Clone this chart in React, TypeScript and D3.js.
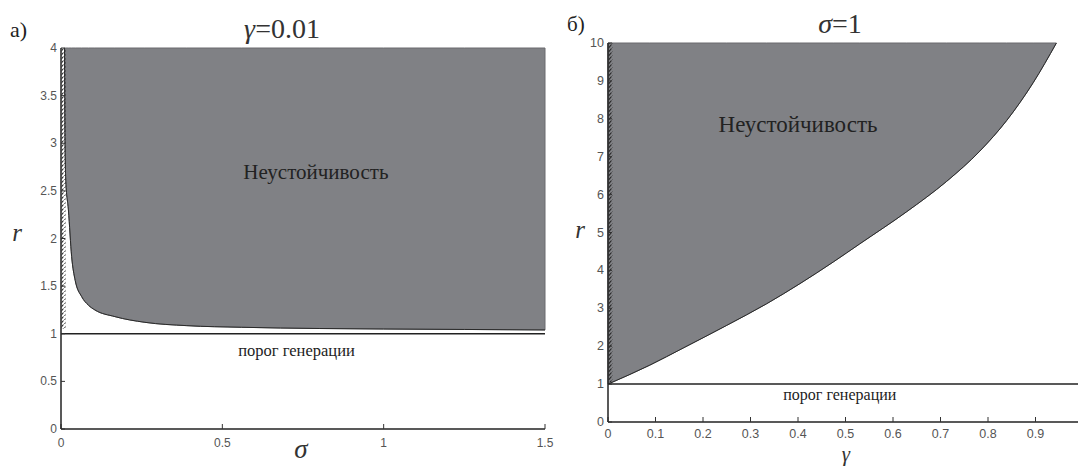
import React from 'react'
import * as d3 from 'd3'

// panel a) : gamma = 0.01, boundary r(sigma)
const sigmaVals = [0.011, 0.0125, 0.015, 0.023, 0.033, 0.044, 0.064, 0.085, 0.105, 0.167, 0.26, 0.39, 0.56, 0.8, 1.0, 1.25, 1.5]
const rVsSigma = [4, 3.0, 2.6, 2.3, 1.81, 1.56, 1.39, 1.3, 1.25, 1.18, 1.12, 1.085, 1.068, 1.055, 1.05, 1.045, 1.04]
const leftXTicks = [0, 0.5, 1, 1.5]
const leftYTicks = [0, 0.5, 1, 1.5, 2, 2.5, 3, 3.5, 4]

// panel б) : sigma = 1, boundary r(gamma)
const gammaVals = [0, 0.088, 0.158, 0.25, 0.334, 0.404, 0.474, 0.53, 0.629, 0.713, 0.783, 0.839, 0.895, 0.944]
const rVsGamma = [1, 1.5, 1.95, 2.55, 3.12, 3.65, 4.22, 4.7, 5.55, 6.35, 7.15, 7.95, 8.95, 10]
const rightXTicks = [0, 0.1, 0.2, 0.3, 0.4, 0.5, 0.6, 0.7, 0.8, 0.9]
const rightYTicks = [0, 1, 2, 3, 4, 5, 6, 7, 8, 9, 10]

const FILL = '#808185'
const SERIF = "'Liberation Serif'"
const SANS = "'Liberation Sans'"

type PanelProps = {
    xs: number[], ys: number[],
    xDomain: number[], xRange: number[],
    yDomain: number[], yRange: number[],
    xTicks: number[], yTicks: number[],
    xEnd: number, id: string, tickSize: number, xLabelDy: number,
}

function Panel({ xs, ys, xDomain, xRange, yDomain, yRange, xTicks, yTicks, xEnd, id, tickSize, xLabelDy }: PanelProps) {
    const x = d3.scaleLinear().domain(xDomain).range(xRange)
    const y = d3.scaleLinear().domain(yDomain).range(yRange)
    const pts: [number, number][] = xs.map((v, i) => [v, ys[i]])
    const top = yDomain[1]

    const area = d3.area<[number, number]>()
        .x(d => x(d[0]))
        .y0(() => y(top))
        .y1(d => y(d[1]))
        .curve(d3.curveMonotoneX)
    const line = d3.line<[number, number]>()
        .x(d => x(d[0]))
        .y(d => y(d[1]))
        .curve(d3.curveMonotoneX)

    return (
        <g>
            <defs>
                <pattern id={id} width={4} height={4} patternUnits="userSpaceOnUse">
                    <path d="M0.5,4 L3.5,0.5" stroke="#222" strokeWidth={1.1} />
                </pattern>
            </defs>
            <path d={area(pts) || ''} fill={FILL} stroke="#6a6b6f" strokeWidth={1} />
            <path d={line(pts) || ''} fill="none" stroke="#2a2a2a" strokeWidth={1} />
            {/* hatching along the left axis */}
            <rect x={x(0) + 0.5} y={y(top)} width={4} height={y(1.05) - y(top)} fill={`url(#${id})`} />
            {/* threshold r = 1 */}
            <line x1={x(0)} x2={xEnd} y1={y(1)} y2={y(1)} stroke="#222" strokeWidth={1.5} />
            {/* x axis */}
            <line x1={x(0)} x2={xEnd} y1={y(0)} y2={y(0)} stroke="#222" strokeWidth={1.5} />
            {xTicks.map(t => (
                <g key={'x' + t}>
                    <line x1={x(t)} x2={x(t)} y1={y(0)} y2={y(0) - 5} stroke="#333" strokeWidth={1} />
                    <text x={x(t)} y={y(0) + xLabelDy} textAnchor="middle" fontSize={tickSize} fill="#555"
                        style={{ fontFamily: SANS }}>{String(t)}</text>
                </g>
            ))}
            {/* y axis */}
            <line x1={x(0)} x2={x(0)} y1={y(0)} y2={y(top)} stroke="#222" strokeWidth={1.5} />
            {yTicks.map(t => (
                <g key={'y' + t}>
                    <line x1={x(0)} x2={x(0) + 4} y1={y(t)} y2={y(t)} stroke="#333" strokeWidth={1} />
                    <text x={x(0) - 4} y={y(t) + 4} textAnchor="end" fontSize={tickSize} fill="#555"
                        style={{ fontFamily: SANS }}>{String(t)}</text>
                </g>
            ))}
        </g>
    )
}

function T({ x, y, size, children, italic, anchor, fill }: any) {
    return (
        <text x={x} y={y} fontSize={size} textAnchor={anchor || 'middle'} fill={fill || '#222'}
            fontStyle={italic ? 'italic' : undefined} style={{ fontFamily: SERIF }}>
            {children}
        </text>
    )
}

export default function App() {
    const lx = d3.scaleLinear().domain([0, 1.5]).range([61, 545])
    const ly = d3.scaleLinear().domain([0, 4]).range([429, 48])
    const rx = d3.scaleLinear().domain([0, 1]).range([608, 1083])
    const ry = d3.scaleLinear().domain([0, 10]).range([422, 43])

    return (
        <div style={{ position: 'absolute', left: 0, top: 0 }}>
            <svg width={1078} height={466} style={{ display: 'block', background: '#fff' }}>
                <Panel id="hatchL" xs={sigmaVals} ys={rVsSigma}
                    xDomain={[0, 1.5]} xRange={[61, 545]} yDomain={[0, 4]} yRange={[429, 48]}
                    xTicks={leftXTicks} yTicks={leftYTicks} xEnd={545} tickSize={12} xLabelDy={18} />
                <Panel id="hatchR" xs={gammaVals} ys={rVsGamma}
                    xDomain={[0, 1]} xRange={[608, 1083]} yDomain={[0, 10]} yRange={[422, 43]}
                    xTicks={rightXTicks} yTicks={rightYTicks} xEnd={1078} tickSize={12.5} xLabelDy={16} />

                <T x={10} y={37} size={22} anchor="start">а)</T>
                <T x={567} y={31} size={21} anchor="start">б)</T>

                <text x={282} y={38} fontSize={28} fill="#333" textAnchor="middle" style={{ fontFamily: SERIF }}>
                    <tspan fontStyle="italic">γ</tspan>=0.01
                </text>
                <text x={840} y={33} fontSize={28} fill="#333" textAnchor="middle" style={{ fontFamily: SERIF }}>
                    <tspan fontStyle="italic">σ</tspan>=1
                </text>

                <T x={lx(0.79)} y={ly(2.62)} size={21}>Неустойчивость</T>
                <T x={lx(0.73)} y={ly(0.77)} size={16.5}>порог генерации</T>
                <T x={rx(0.4)} y={ry(7.66)} size={23}>Неустойчивость</T>
                <T x={rx(0.488)} y={ry(0.58)} size={16}>порог генерации</T>

                <T x={17} y={241} size={25} italic fill="#333">r</T>
                <T x={301} y={458} size={27} italic fill="#333">σ</T>
                <T x={580} y={238} size={25} italic fill="#333">r</T>
                <T x={846} y={461} size={21} italic fill="#333">γ</T>
            </svg>
        </div>
    )
}
